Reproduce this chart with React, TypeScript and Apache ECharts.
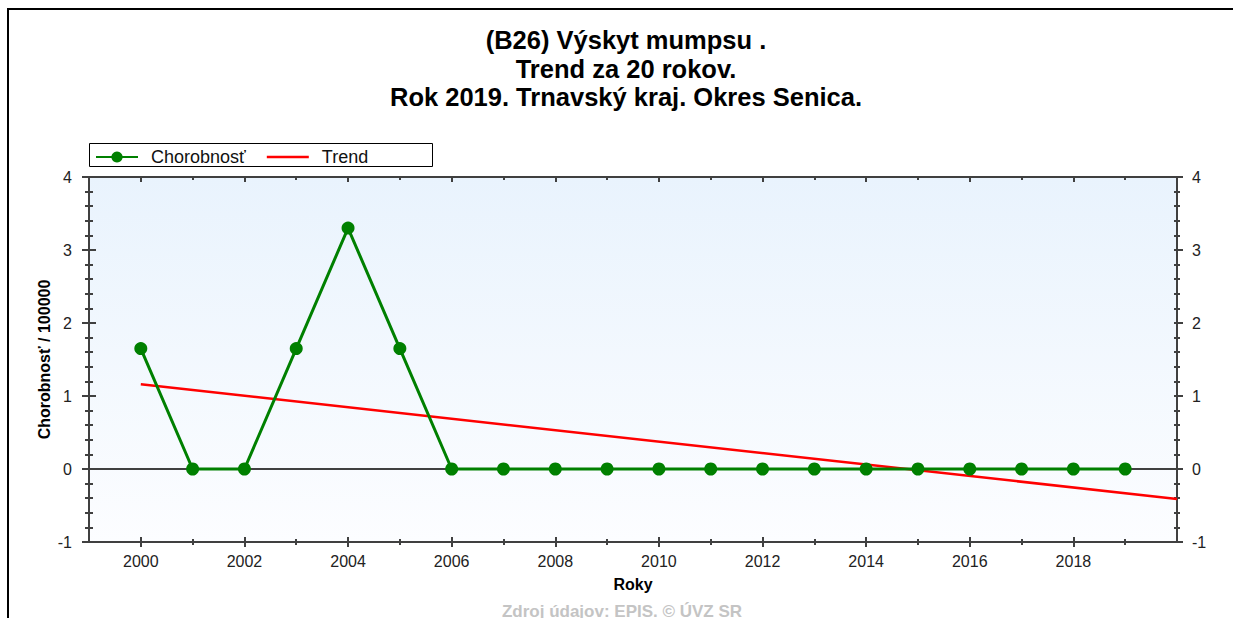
import React, { useEffect, useRef } from "react";
import * as echarts from "echarts";

const years = [2000, 2001, 2002, 2003, 2004, 2005, 2006, 2007, 2008, 2009, 2010, 2011, 2012, 2013, 2014, 2015, 2016, 2017, 2018, 2019];
const chorobnost = [1.65, 0, 0, 1.65, 3.3, 1.65, 0, 0, 0, 0, 0, 0, 0, 0, 0, 0, 0, 0, 0, 0];
const trendYears = [2000, 2020];
const trendValues = [1.16, -0.41];
const xLabelYears = [2000, 2002, 2004, 2006, 2008, 2010, 2012, 2014, 2016, 2018];
const xMinorYears = [2001, 2003, 2005, 2007, 2009, 2011, 2013, 2015, 2017, 2019];
const yMajor = [-1, 0, 1, 2, 3, 4];
const yMinor = [-0.8, -0.6, -0.4, -0.2, 0.2, 0.4, 0.6, 0.8, 1.2, 1.4, 1.6, 1.8, 2.2, 2.4, 2.6, 2.8, 3.2, 3.4, 3.6, 3.8];

const titleText = "(B26) Výskyt mumpsu .\nTrend za 20 rokov.\nRok 2019. Trnavský kraj. Okres Senica.";
const FONT = "'Liberation Sans', Arial, sans-serif";
const AXIS_COLOR = "#404040";

export default function App() {
  const ref = useRef<HTMLDivElement>(null);
  useEffect(() => {
    if (!ref.current) return;
    document.documentElement.style.overflow = "hidden";
    document.body.style.overflow = "hidden";
    const chart = echarts.init(ref.current, undefined, { renderer: "svg" });

    const xBase = { type: "value", min: 1999, max: 2020, gridIndex: 0, splitLine: { show: false } };
    const yBase = { type: "value", min: -1, max: 4, gridIndex: 0, splitLine: { show: false } };
    const tickLine = { color: AXIS_COLOR, width: 2 };

    const xAxis: any[] = [
      {
        ...xBase, position: "bottom",
        axisLine: { show: true, onZero: false, lineStyle: { color: AXIS_COLOR, width: 2 } },
        axisTick: { show: true, inside: false, length: 5, customValues: xLabelYears, lineStyle: tickLine },
        axisLabel: { show: true, customValues: xLabelYears, margin: 11, fontSize: 16, color: "#222", fontFamily: FONT, formatter: (v: number) => String(v) },
      },
      {
        ...xBase, position: "bottom",
        axisLine: { show: false, onZero: false },
        axisTick: { show: true, inside: true, length: 5, customValues: xLabelYears, lineStyle: tickLine },
        axisLabel: { show: false },
      },
      {
        ...xBase, position: "bottom",
        axisLine: { show: false, onZero: false },
        axisTick: { show: true, inside: false, length: 3, customValues: xMinorYears, lineStyle: tickLine },
        axisLabel: { show: false },
      },
      {
        ...xBase, position: "bottom",
        axisLine: { show: false, onZero: false },
        axisTick: { show: true, inside: true, length: 3, customValues: xMinorYears, lineStyle: tickLine },
        axisLabel: { show: false },
      },
      {
        ...xBase, position: "top",
        axisLine: { show: true, onZero: false, lineStyle: { color: AXIS_COLOR, width: 2 } },
        axisTick: { show: true, inside: true, length: 5, customValues: xLabelYears, lineStyle: tickLine },
        axisLabel: { show: false },
      },
      {
        ...xBase, position: "top",
        axisLine: { show: false, onZero: false },
        axisTick: { show: true, inside: true, length: 3, customValues: xMinorYears, lineStyle: tickLine },
        axisLabel: { show: false },
      },
    ];

    const yAxis: any[] = [
      {
        ...yBase, position: "left",
        axisLine: { show: true, onZero: false, lineStyle: { color: AXIS_COLOR, width: 2 } },
        axisTick: { show: true, inside: false, length: 7, customValues: yMajor, lineStyle: tickLine },
        axisLabel: { show: true, customValues: yMajor, margin: 17, fontSize: 16, color: "#222", fontFamily: FONT },
      },
      {
        ...yBase, position: "left",
        axisLine: { show: false, onZero: false },
        axisTick: { show: true, inside: true, length: 7, customValues: yMajor, lineStyle: tickLine },
        axisLabel: { show: false },
      },
      {
        ...yBase, position: "left",
        axisLine: { show: false, onZero: false },
        axisTick: { show: true, inside: false, length: 4, customValues: yMinor, lineStyle: tickLine },
        axisLabel: { show: false },
      },
      {
        ...yBase, position: "left",
        axisLine: { show: false, onZero: false },
        axisTick: { show: true, inside: true, length: 4, customValues: yMinor, lineStyle: tickLine },
        axisLabel: { show: false },
      },
      {
        ...yBase, position: "right",
        axisLine: { show: true, onZero: false, lineStyle: { color: AXIS_COLOR, width: 2 } },
        axisTick: { show: true, inside: false, length: 6, customValues: yMajor, lineStyle: tickLine },
        axisLabel: { show: true, customValues: yMajor, margin: 15, fontSize: 16, color: "#222", fontFamily: FONT },
      },
      {
        ...yBase, position: "right",
        axisLine: { show: false, onZero: false },
        axisTick: { show: true, inside: true, length: 3, customValues: yMajor, lineStyle: tickLine },
        axisLabel: { show: false },
      },
      {
        ...yBase, position: "right",
        axisLine: { show: false, onZero: false },
        axisTick: { show: true, inside: false, length: 3, customValues: yMinor, lineStyle: tickLine },
        axisLabel: { show: false },
      },
      {
        ...yBase, position: "right",
        axisLine: { show: false, onZero: false },
        axisTick: { show: true, inside: true, length: 3, customValues: yMinor, lineStyle: tickLine },
        axisLabel: { show: false },
      },
    ];

    chart.setOption({
      animation: false,
      backgroundColor: "#ffffff",
      title: {
        text: titleText,
        left: 621,
        textAlign: "center",
        top: 21,
        textStyle: { fontSize: 25.5, fontWeight: "bold", lineHeight: 28.5, color: "#000", fontFamily: FONT },
      },
      legend: {
        data: [
          { name: "Chorobnosť" },
          { name: "Trend", icon: "path://M0,0H42V2.5H0Z" },
        ],
        left: 95,
        top: 148,
        padding: 0,
        itemWidth: 42,
        itemHeight: 14,
        itemGap: 21,
        textStyle: { fontSize: 18, color: "#111", fontFamily: FONT, padding: [0, 0, 0, 8] },
        z: 10,
      },
      grid: {
        left: 89,
        top: 177,
        width: 1088,
        height: 365,
        show: true,
        borderWidth: 0,
        backgroundColor: new echarts.graphic.LinearGradient(0, 0, 0, 1, [
          { offset: 0, color: "#e9f3fd" },
          { offset: 1, color: "#fcfdff" },
        ]),
      },
      xAxis,
      yAxis,
      graphic: [
        {
          type: "line",
          z: 1,
          shape: { x1: 7, y1: 9, x2: 1240, y2: 9 },
          style: { stroke: "#000", lineWidth: 2 },
        },
        {
          type: "line",
          z: 1,
          shape: { x1: 8, y1: 8, x2: 8, y2: 618 },
          style: { stroke: "#000", lineWidth: 2 },
        },
        {
          type: "rect",
          z: 1,
          shape: { x: 89.5, y: 143.5, width: 343, height: 23 },
          style: { fill: "#ffffff", stroke: "#000", lineWidth: 1 },
        },
        {
          type: "text",
          x: 44,
          y: 359.5,
          rotation: Math.PI / 2,
          style: {
            text: "Chorobnosť / 100000",
            fontSize: 16,
            fontWeight: "bold",
            fontFamily: FONT,
            fill: "#000",
            align: "center",
            verticalAlign: "middle",
          },
        },
        {
          type: "text",
          x: 633,
          y: 584.5,
          style: {
            text: "Roky",
            fontSize: 16,
            fontWeight: "bold",
            fontFamily: FONT,
            fill: "#000",
            align: "center",
            verticalAlign: "middle",
          },
        },
        {
          type: "text",
          x: 622,
          y: 611,
          style: {
            text: "Zdroj údajov: EPIS. © ÚVZ SR",
            fontSize: 17,
            fontWeight: "bold",
            fontFamily: FONT,
            fill: "#c4c4c4",
            align: "center",
            verticalAlign: "middle",
          },
        },
      ],
      series: [
        {
          name: "Trend",
          type: "line",
          xAxisIndex: 0,
          yAxisIndex: 0,
          data: trendYears.map((y, i) => [y, trendValues[i]]),
          symbol: "none",
          lineStyle: { color: "#ff0000", width: 2.5 },
          itemStyle: { color: "#ff0000" },
          z: 3,
        },
        {
          name: "Chorobnosť",
          type: "line",
          xAxisIndex: 0,
          yAxisIndex: 0,
          data: years.map((y, i) => [y, chorobnost[i]]),
          symbol: "circle",
          symbolSize: 13,
          lineStyle: { color: "#008000", width: 3 },
          itemStyle: { color: "#008000" },
          z: 4,
          markLine: {
            silent: true,
            symbol: "none",
            label: { show: false },
            lineStyle: { color: AXIS_COLOR, width: 2, type: "solid" },
            data: [{ yAxis: 0 }],
            z: 2,
          },
        },
      ],
    });
    return () => chart.dispose();
  }, []);

  return (
    <div style={{ position: "absolute", left: 0, top: 0, width: 1233, height: 618, overflow: "hidden" }}>
      <div ref={ref} style={{ width: 1233, height: 618 }} />
    </div>
  );
}
